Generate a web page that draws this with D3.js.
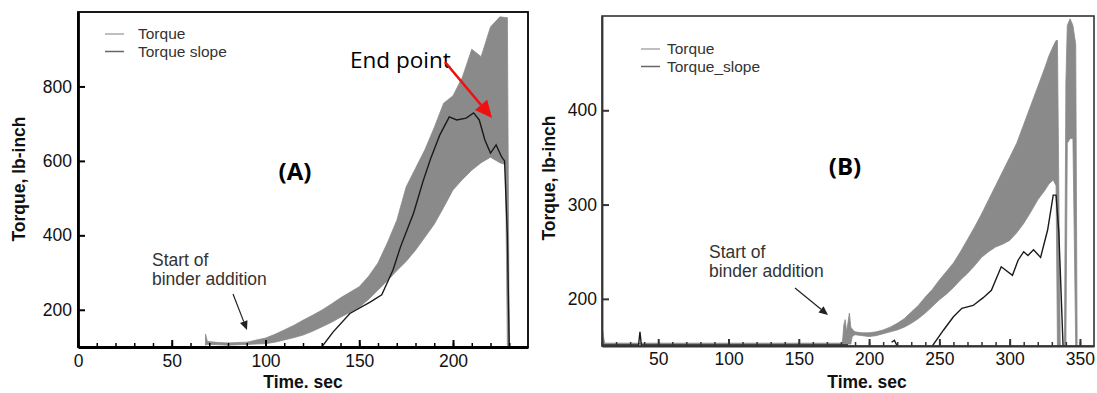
<!DOCTYPE html>
<html>
<head>
<meta charset="utf-8">
<script src="https://cdn.jsdelivr.net/npm/d3@7"></script>
<style>
  body { margin: 0; background: #fff; }
  svg { display: block; }
  .tick text { font-family: 'Liberation Sans', Arial, sans-serif; font-size: 17.5px; fill: #111; }
</style>
</head>
<body>
<svg id="chart" width="1097" height="393"></svg>
<script>
// ---- panel A data ----
const timeA = [68, 69, 75, 80, 90, 100, 105, 110, 115, 120, 125, 130, 135, 140, 145, 150, 155, 160, 165, 170, 175, 180, 185, 190, 195, 200, 205, 210, 215, 220, 225, 228, 229, 230];
const torqueLowA = [105, 107, 106, 105, 107, 109, 113, 119, 125, 132, 142, 154, 166, 180, 193, 207, 228, 253, 278, 305, 330, 360, 395, 430, 475, 522, 550, 575, 595, 610, 595, 590, 100, 100];
const torqueHighA = [135, 115, 112, 111, 113, 124, 134, 146, 158, 172, 185, 199, 215, 232, 247, 262, 290, 326, 380, 440, 530, 580, 630, 690, 755, 775, 825, 900, 880, 960, 987, 985, 985, 100];
const slopeTimeA = [130, 136, 145, 156, 162, 168, 172, 179, 184, 188, 193, 198, 202, 207, 211, 214, 217, 220, 223, 226, 227.5, 229, 230];
const slopeA = [100, 140, 190, 221, 240, 307, 369, 460, 545, 605, 670, 718, 710, 715, 729, 710, 656, 621, 643, 610, 600, 400, 100];
const xTicksA = [0, 50, 100, 150, 200];
const yTicksA = [200, 400, 600, 800];

// ---- panel B data ----
const timeB = [10, 11, 12, 30, 60, 100, 150, 181, 182, 183, 184, 185, 186, 187, 188, 190, 195, 200, 205, 210, 215, 220, 225, 230, 235, 240, 245, 250, 255, 260, 265, 270, 275, 280, 285, 290, 295, 300, 305, 310, 315, 320, 325, 328, 331, 333, 334, 336, 339, 340, 341, 343, 345, 347, 348];
const torqueLowB = [152, 152, 152, 152, 152, 152, 152, 152, 152, 152, 152, 152, 152, 152, 160, 162, 161, 160, 161, 163, 165, 167, 170, 174, 179, 185, 192, 199, 205, 212, 220, 227, 235, 244, 250, 255, 258, 262, 270, 280, 292, 305, 315, 322, 326, 320, 150, 150, 150, 150, 365, 370, 370, 150, 150];
const torqueHighB = [172, 160, 153, 153, 153, 153, 153, 153, 172, 178, 165, 175, 185, 170, 168, 165, 164, 164, 165, 167, 170, 174, 179, 186, 193, 202, 210, 220, 229, 238, 250, 263, 276, 290, 305, 320, 335, 350, 365, 385, 405, 425, 445, 458, 468, 474, 474, 150, 150, 430, 490, 497, 490, 470, 150];
const slopeTimeB = [10, 36, 37, 38, 185, 186, 212, 216, 218, 220, 221, 244, 245, 253, 260, 266, 274, 281, 287, 294, 302, 306, 310, 313, 317, 322, 327, 331, 333, 335, 338];
const slopeB = [151, 151, 165, 151, 151, null, null, 154, 156, 150, null, null, 150, 167, 181, 190, 193, 201, 209, 234, 225, 241, 250, 246, 252, 244, 273, 310, 310, 270, 150];
const xTicksB = [50, 100, 150, 200, 250, 300, 350];
const yTicksB = [200, 300, 400];

const svg = d3.select('#chart');
svg.append('rect').attr('width', 1097).attr('height', 393).attr('fill', '#fff');

const defs = svg.append('defs');
const font = "'Liberation Sans', Arial, sans-serif";

function drawPanel(p) {
  const x = d3.scaleLinear().domain(p.xDomain).range([p.left, p.right]);
  const y = d3.scaleLinear().domain(p.yDomain).range([p.bottom, p.top]);
  const g = svg.append('g');

  defs.append('clipPath').attr('id', 'clip' + p.id)
    .append('rect')
    .attr('x', p.left).attr('y', p.top - 10)
    .attr('width', p.right - p.left).attr('height', p.bottom - p.top + 10);

  const plot = g.append('g').attr('clip-path', `url(#clip${p.id})`);

  const band = p.time.map((t, i) => ({ t, lo: p.low[i], hi: p.high[i] }));
  const area = d3.area()
    .x((d) => x(d.t))
    .y0((d) => y(d.lo))
    .y1((d) => y(d.hi));
  plot.append('path').attr('d', area(band)).attr('fill', '#8a8a8a').attr('stroke', '#8a8a8a').attr('stroke-width', 0.8);

  const slope = p.slopeTime.map((t, i) => ({ t, v: p.slope[i] }));
  const line = d3.line()
    .defined((d) => d.v != null)
    .x((d) => x(d.t))
    .y((d) => y(d.v));
  plot.append('path').attr('d', line(slope)).attr('fill', 'none').attr('stroke', '#1a1a1a').attr('stroke-width', 1.4);

  // frame
  g.append('rect')
    .attr('x', p.left).attr('y', p.top)
    .attr('width', p.right - p.left).attr('height', p.bottom - p.top)
    .attr('fill', 'none').attr('stroke', p.frameColor).attr('stroke-width', p.frameWidth);

  // minor x ticks every 10
  g.append('g')
    .attr('transform', `translate(0,${p.bottom})`)
    .call(d3.axisBottom(x).tickValues(d3.range(Math.ceil(p.xDomain[0] / 10) * 10, p.xDomain[1], 10)).tickFormat('').tickSizeInner(-4).tickSizeOuter(0))
    .call((a) => a.select('.domain').remove())
    .call((a) => a.selectAll('line').attr('stroke', p.frameColor).attr('stroke-width', 1.5));

  const xAxis = g.append('g')
    .attr('transform', `translate(0,${p.bottom})`)
    .call(d3.axisBottom(x).tickValues(p.xTicks).tickSizeInner(-7).tickSizeOuter(0).tickPadding(p.xPad));
  xAxis.select('.domain').attr('stroke', p.frameColor).attr('stroke-width', p.axisWidth);
  xAxis.selectAll('line').attr('stroke', p.frameColor).attr('stroke-width', 2);

  const yAxis = g.append('g')
    .attr('transform', `translate(${p.left},0)`)
    .call(d3.axisLeft(y).tickValues(p.yTicks).tickSizeInner(-7).tickSizeOuter(0).tickPadding(p.yPad));
  yAxis.select('.domain').attr('stroke', p.frameColor).attr('stroke-width', p.axisWidth);
  yAxis.selectAll('line').attr('stroke', p.frameColor).attr('stroke-width', 2);

  // axis titles
  g.append('text')
    .attr('x', p.xTitle[0]).attr('y', p.xTitle[1])
    .attr('text-anchor', 'middle')
    .attr('font-family', font).attr('font-weight', 'bold').attr('font-size', 17.5).attr('fill', '#111')
    .text('Time. sec');
  g.append('text')
    .attr('transform', `translate(${p.yTitle[0]},${p.yTitle[1]}) rotate(-90)`)
    .attr('text-anchor', 'middle')
    .attr('font-family', font).attr('font-weight', 'bold').attr('font-size', 17.5).attr('fill', '#111')
    .text('Torque, lb-inch');

  // legend
  p.legend.forEach((name, i) => {
    const ly = p.legendPos[1] + i * p.legendStep;
    g.append('line')
      .attr('x1', p.legendPos[0]).attr('x2', p.legendPos[0] + 19)
      .attr('y1', ly).attr('y2', ly)
      .attr('stroke', i === 0 ? '#aaa' : '#666').attr('stroke-width', 1.5);
    g.append('text')
      .attr('x', p.legendPos[0] + p.legendGap).attr('y', ly + 5)
      .attr('font-family', font).attr('font-size', 15.5).attr('fill', '#333')
      .text(name);
  });

  // panel label
  g.append('text')
    .attr('x', p.label[0]).attr('y', p.label[1])
    .attr('text-anchor', 'middle')
    .attr('font-family', "'Open Sans', sans-serif").attr('font-weight', 'bold').attr('font-size', 24).attr('fill', '#000')
    .text(p.labelText);

  // binder annotation
  const tx = g.append('text')
    .attr('font-family', font).attr('font-size', 17.5).attr('fill', '#333');
  tx.append('tspan').attr('x', p.binderText[0]).attr('y', p.binderText[1]).text('Start of');
  tx.append('tspan').attr('x', p.binderText[0]).attr('y', p.binderText[1] + 18.5).text('binder addition');
  drawArrow(g, p.binderArrow, '#222', 1.2, 9, 4);

  return g;
}

function drawArrow(g, pts, color, width, headLen, headHalf) {
  const [x1, y1, x2, y2] = pts;
  const ang = Math.atan2(y2 - y1, x2 - x1);
  const bx = x2 - headLen * Math.cos(ang);
  const by = y2 - headLen * Math.sin(ang);
  g.append('line')
    .attr('x1', x1).attr('y1', y1).attr('x2', bx).attr('y2', by)
    .attr('stroke', color).attr('stroke-width', width);
  const nx = -Math.sin(ang) * headHalf;
  const ny = Math.cos(ang) * headHalf;
  g.append('path')
    .attr('d', `M${x2},${y2}L${bx + nx},${by + ny}L${bx - nx},${by - ny}Z`)
    .attr('fill', color);
}

const gA = drawPanel({
  id: 'A', xDomain: [0, 240], yDomain: [100, 1000],
  left: 78, right: 528, top: 12, bottom: 347,
  time: timeA, low: torqueLowA, high: torqueHighA,
  slopeTime: slopeTimeA, slope: slopeA,
  xTicks: xTicksA, yTicks: yTicksA, xPad: 8, yPad: 6,
  frameColor: '#000', frameWidth: 1.8, axisWidth: 2.8,
  xTitle: [303, 388], yTitle: [25, 179],
  legend: ['Torque', 'Torque slope'], legendPos: [105, 34], legendStep: 17.5, legendGap: 33,
  label: [295, 180], labelText: '(A)',
  binderText: [152, 266], binderArrow: [233, 294, 247, 330]
});

drawPanel({
  id: 'B', xDomain: [10, 360], yDomain: [150, 500],
  left: 602, right: 1094, top: 16, bottom: 346,
  time: timeB, low: torqueLowB, high: torqueHighB,
  slopeTime: slopeTimeB, slope: slopeB,
  xTicks: xTicksB, yTicks: yTicksB, xPad: 7, yPad: 5,
  frameColor: '#333', frameWidth: 1.6, axisWidth: 1.8,
  xTitle: [867, 388], yTitle: [555, 178],
  legend: ['Torque', 'Torque_slope'], legendPos: [641, 49], legendStep: 17.5, legendGap: 26,
  label: [845, 175], labelText: '(B)',
  binderText: [709, 258], binderArrow: [795, 288, 828, 315]
});

// "End point" callout on panel A
gA.append('text')
  .attr('x', 350).attr('y', 68)
  .attr('font-family', "'Open Sans', sans-serif").attr('font-size', 22.5).attr('fill', '#000')
  .text('End point');
drawArrow(gA, [445, 62, 492, 118], '#ee1111', 2.6, 17, 8);
</script>
</body>
</html>
